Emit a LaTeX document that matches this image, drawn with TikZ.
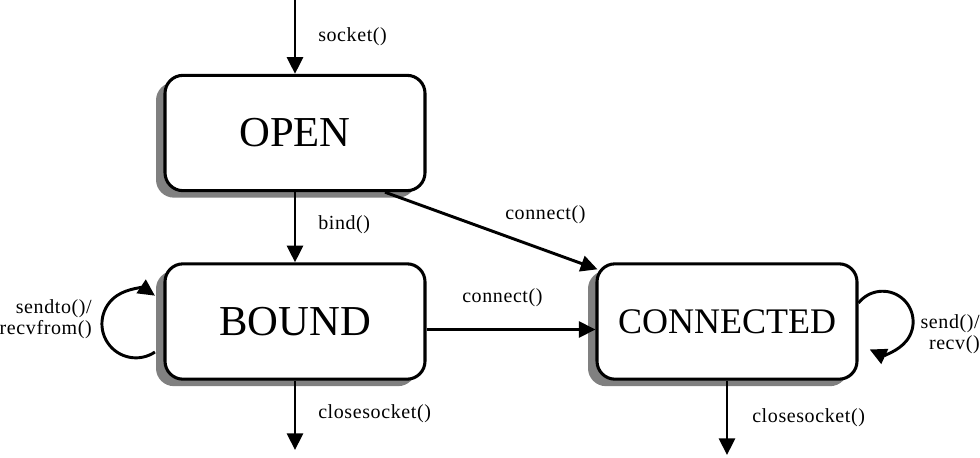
\documentclass[tikz,border=0pt]{standalone}
\usepackage{fontspec}
\setmainfont{Liberation Serif}
\usetikzlibrary{arrows.meta,shadows}
\pgfdeclarelayer{background}
\pgfsetlayers{background,main}
\definecolor{shadowgray}{RGB}{128,128,128}
\begin{document}
\begin{tikzpicture}[x=0.75pt,y=-0.75pt,
  state/.style={draw, line width=2.3pt, rounded corners=13.5pt, fill=white,
    minimum width=195pt, minimum height=86.5pt, inner sep=0pt,
    drop shadow={shadow xshift=-6.75pt, shadow yshift=-5.25pt, fill=shadowgray, opacity=1}},
  big/.style={font=\fontsize{32}{36}\selectfont},
  arr/.style={line width=2.2pt, -{Triangle[length=12.5pt,width=12pt]}},
  lbl/.style={font=\fontsize{15}{16}\selectfont\addfontfeature{LetterSpace=3}, inner sep=0pt, anchor=west}]
\useasboundingbox (0,0) rectangle (980,457);

\node[state, big] (open) at (295,133) {OPEN};
\node[state, big] (bound) at (295,321.5) {BOUND};
\node[state, font=\fontsize{27}{30}\selectfont] (conn) at (727,321.5) {CONNECTED};

\coordinate (start) at (295,0);
\coordinate (bend) at (295,450);
\coordinate (cend) at (727,455);

\draw[arr] (start) -- (open.north);
\draw[arr] (open.south) -- (bound.north);
\draw[arr] (bound.south) -- (bend);
\draw[arr] (conn.south) -- (cend);
\draw[arr] ([xshift=67.5pt]open.south) -- ([xshift=1.5pt,yshift=-5.25pt]conn.north west);
\draw[arr] ([yshift=-6pt]bound.east) -- ([yshift=-6pt]conn.west);

\begin{pgfonlayer}{background}
\draw[arr] ([xshift=-6.4pt,yshift=-22.9pt]bound.west) arc[start angle=-56, end angle=-304, radius=25.5pt];
\draw[arr] ([yshift=13.9pt]conn.east) arc[start angle=142, end angle=-115, radius=22.9pt];
\end{pgfonlayer}

\node[lbl] (l1) at (318,37) {socket()};
\node[lbl] (l2) at (318,225) {bind()};
\node[lbl] (l3) at (318,414) {closesocket()};
\node[lbl] (l4) at (752,418) {closesocket()};
\node[lbl] (l5) at (505,215) {connect()};
\node[lbl] (l6) at (462,298) {connect()};
\node[lbl, anchor=east, align=right] (l7) at (92,319) {sendto()/\\recvfrom()};
\node[lbl, anchor=east, align=right] (l8) at (980,334) {send()/\\recv()};
\end{tikzpicture}
\end{document}
